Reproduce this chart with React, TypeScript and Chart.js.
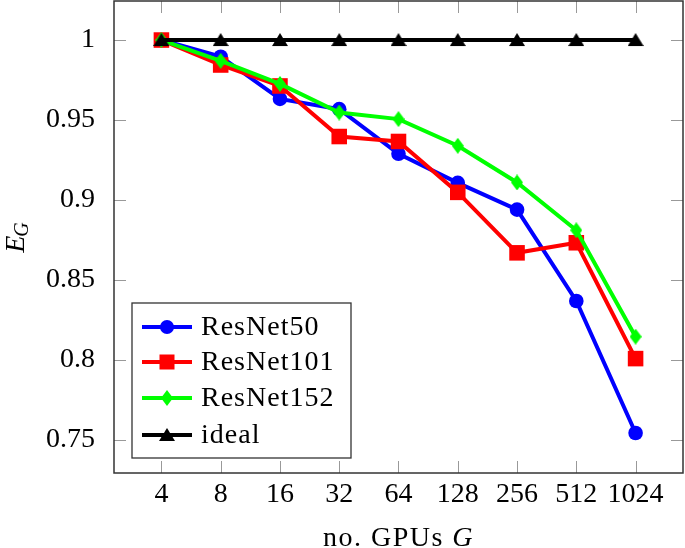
import React, { useEffect, useRef } from "react";
import { Chart, registerables } from "chart.js";

Chart.register(...registerables);

const categories = ["4", "8", "16", "32", "64", "128", "256", "512", "1024"];
const resnet50 = [1, 0.9896, 0.9632, 0.9568, 0.9289, 0.9107, 0.894, 0.8369, 0.7544];
const resnet101 = [1, 0.9844, 0.9713, 0.9397, 0.9366, 0.9048, 0.867, 0.8733, 0.8009];
const resnet152 = [1, 0.987, 0.9726, 0.9547, 0.9506, 0.9339, 0.911, 0.8811, 0.8146];
const ideal = [1, 1, 1, 1, 1, 1, 1, 1, 1];
const yTicks = [0.75, 0.8, 0.85, 0.9, 0.95, 1];
const seriesNames = ["ResNet50", "ResNet101", "ResNet152", "ideal"];

const FONT = "'Liberation Serif', 'DejaVu Serif', serif";
const FS = 28;

function makeDiamond(color: string) {
  const c = document.createElement("canvas");
  c.width = 12;
  c.height = 16;
  const g = c.getContext("2d")!;
  g.fillStyle = color;
  g.beginPath();
  g.moveTo(6, 0);
  g.lineTo(12, 8);
  g.lineTo(6, 16);
  g.lineTo(0, 8);
  g.closePath();
  g.fill();
  return c;
}

function makeTriangle(color: string) {
  const c = document.createElement("canvas");
  c.width = 16;
  c.height = 14;
  const g = c.getContext("2d")!;
  g.fillStyle = color;
  g.beginPath();
  g.moveTo(8, 0);
  g.lineTo(16, 13);
  g.lineTo(0, 13);
  g.closePath();
  g.fill();
  return c;
}

function drawMarker(ctx: CanvasRenderingContext2D, kind: string, x: number, y: number, color: string, img: HTMLCanvasElement | null) {
  ctx.fillStyle = color;
  ctx.beginPath();
  if (kind === "circle") {
    ctx.arc(x, y, 7, 0, Math.PI * 2);
    ctx.fill();
  } else if (kind === "rect") {
    ctx.fillRect(x - 7.5, y - 7.5, 15, 15);
  } else if (img) {
    ctx.drawImage(img, x - img.width / 2, y - img.height / 2);
  }
}

export default function App() {
  const ref = useRef<HTMLCanvasElement | null>(null);

  useEffect(() => {
    const canvas = ref.current;
    if (!canvas) return;
    const diamond = makeDiamond("#00ff00");
    const triangle = makeTriangle("#000000");
    const colors = ["#0000ff", "#ff0000", "#00ff00", "#000000"];
    const kinds = ["circle", "rect", "diamond", "triangle"];
    const imgs = [null, null, diamond, triangle];

    const framePlugin = {
      id: "framePlugin",
      beforeDatasetsDraw(chart: any) {
        const { ctx, chartArea } = chart;
        const { left, right, top, bottom } = chartArea;
        const xs = chart.scales.x;
        const ys = chart.scales.y;
        ctx.save();
        ctx.strokeStyle = "#999999";
        ctx.lineWidth = 1;
        const tl = 12;
        ctx.beginPath();
        for (let i = 0; i < categories.length; i++) {
          const px = Math.round(xs.getPixelForValue(i)) + 0.5;
          ctx.moveTo(px, bottom);
          ctx.lineTo(px, bottom - tl);
          ctx.moveTo(px, top);
          ctx.lineTo(px, top + tl);
        }
        for (const v of yTicks) {
          const py = Math.round(ys.getPixelForValue(v)) + 0.5;
          ctx.moveTo(left, py);
          ctx.lineTo(left + tl, py);
          ctx.moveTo(right, py);
          ctx.lineTo(right - tl, py);
        }
        ctx.stroke();
        ctx.restore();
      },
      afterDatasetsDraw(chart: any) {
        const { ctx, chartArea } = chart;
        const { left, right, top, bottom } = chartArea;
        ctx.save();
        ctx.strokeStyle = "#333333";
        ctx.lineWidth = 1.5;
        ctx.strokeRect(left, top, right - left, bottom - top);

        // legend
        const bx = 132, by = 303, bw = 219, bh = 155;
        ctx.fillStyle = "#ffffff";
        ctx.fillRect(bx, by, bw, bh);
        ctx.strokeStyle = "#333333";
        ctx.lineWidth = 1.3;
        ctx.strokeRect(bx, by, bw, bh);
        const rows = [327, 362, 398, 435];
        ctx.font = `${FS}px ${FONT}`;
        ctx.textBaseline = "middle";
        ctx.textAlign = "left";
        try { (ctx as any).letterSpacing = "1px"; } catch (e) {}
        for (let i = 0; i < 4; i++) {
          const y = rows[i];
          ctx.strokeStyle = colors[i];
          ctx.lineWidth = 4;
          ctx.beginPath();
          ctx.moveTo(142, y);
          ctx.lineTo(192, y);
          ctx.stroke();
          drawMarker(ctx, kinds[i], 167, y, colors[i], imgs[i]);
          ctx.fillStyle = "#000000";
          ctx.fillText(seriesNames[i], 201, y + 1);
        }
        ctx.restore();
      },
      afterDraw(chart: any) {
        const { ctx, chartArea } = chart;
        ctx.save();
        ctx.fillStyle = "#000000";
        // x title
        const cx = (chartArea.left + chartArea.right) / 2;
        const t1 = "no. GPUs ";
        const t2 = "G";
        ctx.textBaseline = "alphabetic";
        ctx.textAlign = "left";
        try { (ctx as any).letterSpacing = "1.5px"; } catch (e) {}
        ctx.font = `${FS}px ${FONT}`;
        const w1 = ctx.measureText(t1).width;
        ctx.font = `italic ${FS}px ${FONT}`;
        const w2 = ctx.measureText(t2).width;
        const sx = cx - (w1 + w2) / 2;
        ctx.font = `${FS}px ${FONT}`;
        ctx.fillText(t1, sx, 546);
        ctx.font = `italic ${FS}px ${FONT}`;
        ctx.fillText(t2, sx + w1, 546);
        try { (ctx as any).letterSpacing = "0px"; } catch (e) {}

        // y title E_G
        const cy = (chartArea.top + chartArea.bottom) / 2;
        ctx.textBaseline = "middle";
        ctx.translate(17, cy);
        ctx.rotate(-Math.PI / 2);
        ctx.font = `italic ${FS}px ${FONT}`;
        const we = ctx.measureText("E").width;
        ctx.font = `italic 20px ${FONT}`;
        const wg = ctx.measureText("G").width;
        const st = -(we + wg) / 2;
        ctx.font = `italic ${FS}px ${FONT}`;
        ctx.fillText("E", st, 0);
        ctx.font = `italic 20px ${FONT}`;
        ctx.fillText("G", st + we - 1, 6);
        ctx.restore();
      },
    };

    const mk = (label: string, data: number[], color: string, style: any, radius: number, order: number) => ({
      label,
      data: data.map((v, i) => ({ x: i, y: v })),
      borderColor: color,
      backgroundColor: color,
      borderWidth: 4,
      pointStyle: style,
      pointRadius: radius,
      pointHoverRadius: radius,
      pointBorderWidth: 0,
      pointBackgroundColor: color,
      pointBorderColor: color,
      tension: 0,
      order,
      clip: false as any,
    });

    const chart = new Chart(canvas, {
      type: "line",
      data: {
        datasets: [
          mk(seriesNames[0], resnet50, colors[0], "circle", 7.3, 3),
          mk(seriesNames[1], resnet101, colors[1], "rect", 11, 2),
          mk(seriesNames[2], resnet152, colors[2], diamond, 8, 1),
          mk(seriesNames[3], ideal, colors[3], triangle, 8, 0),
        ],
      },
      options: {
        animation: false,
        responsive: false,
        maintainAspectRatio: false,
        layout: { autoPadding: false, padding: { left: 0, top: 1, right: 2, bottom: 0 } },
        plugins: { legend: { display: false }, tooltip: { enabled: false } },
        scales: {
          x: {
            type: "linear",
            min: -0.8,
            max: 8.8,
            grid: { display: false },
            border: { display: false },
            afterBuildTicks: (scale: any) => {
              scale.ticks = categories.map((_, i) => ({ value: i }));
            },
            afterFit: (scale: any) => {
              scale.height = 75;
              scale.paddingLeft = 0;
              scale.paddingRight = 0;
            },
            ticks: {
              autoSkip: false,
              maxRotation: 0,
              padding: -3,
              color: "#000000",
              font: { family: FONT, size: FS },
              callback: (v: any) => categories[Math.round(Number(v))] ?? "",
            },
          },
          y: {
            type: "linear",
            min: 0.7294,
            max: 1.0244,
            grid: { display: false },
            border: { display: false },
            afterBuildTicks: (scale: any) => {
              scale.ticks = yTicks.map((v) => ({ value: v }));
            },
            afterFit: (scale: any) => {
              scale.width = 114;
              scale.paddingTop = 0;
              scale.paddingBottom = 0;
            },
            ticks: {
              padding: 11,
              color: "#000000",
              font: { family: FONT, size: FS },
              callback: (v: any) => String(parseFloat(Number(v).toFixed(2))),
            },
          },
        },
      },
      plugins: [framePlugin],
    });
    return () => chart.destroy();
  }, []);

  return (
    <div style={{ position: "fixed", left: 0, top: 0, width: 685, height: 548, background: "#fff" }}>
      <canvas ref={ref} width={685} height={548} style={{ display: "block", width: 685, height: 548 }} />
    </div>
  );
}
